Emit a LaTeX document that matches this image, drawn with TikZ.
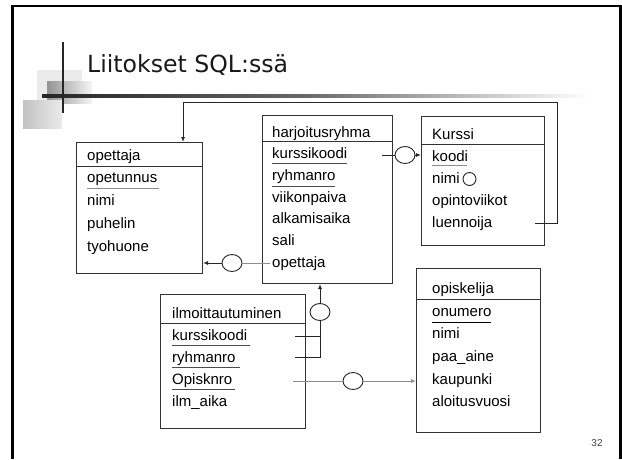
\documentclass[tikz,border=0pt]{standalone}
\usepackage{fontspec}
\setmainfont{Liberation Sans}
\newfontfamily\titlefont{DejaVu Sans}
\usetikzlibrary{arrows.meta,shapes.geometric}
\begin{document}
\begin{tikzpicture}[x=1pt,y=-1pt,
  tbl/.style={draw=black!80, line width=1pt, anchor=north west, inner sep=0pt},
  sepline/.style={draw=black!80, line width=1pt},
  txt/.style={anchor=base west, inner sep=0pt, font=\fontsize{15}{18}\selectfont},
  ul/.style={line width=0.9pt, black!70},
  ulg/.style={line width=0.9pt, black!45},
  link/.style={line width=0.9pt, black!85},
  linkg/.style={line width=0.9pt, black!45},
  tip/.style={-{Latex[length=5pt,width=4pt]}},
  ring/.style={draw=black!85, ellipse, line width=0.9pt, minimum width=20pt, minimum height=17pt, inner sep=0pt},
  smallring/.style={draw=black!85, ellipse, line width=0.9pt, minimum width=13pt, minimum height=13pt, inner sep=0pt}
]
\useasboundingbox (0,0) rectangle (622,459);
\fill[white] (0,0) rectangle (622,459);

% slide frame
\draw[line width=2.5pt, black] (12.5,459) -- (12.5,6) -- (620.5,6) -- (620.5,459);

% title decoration
\fill[black!8] (37,70) rectangle (82,100);
\shade[left color=black!42, right color=black!4] (47,81) rectangle (92,103);
\shade[left color=black!24, right color=black!8] (23,100) rectangle (62,128);
\shade[left color=black!85, right color=black!60] (42,94.5) rectangle (300,97.5);
\shade[left color=black!60, right color=white] (300,94.5) rectangle (590,97.5);
\draw[line width=2pt, black!85] (63,42) -- (63,113);

\node[anchor=base west, inner sep=0pt, font=\titlefont\fontsize{23.6}{28}\selectfont, text=black!90] (title) at (87,72) {Liitokset SQL:ssä};

% opettaja
\node[tbl, minimum width=126pt, minimum height=131pt] (opettaja) at (76,142) {};
\draw[sepline] (76,166) -- (202,166);
\node[txt] (opH) at (87,160) {opettaja};
\node[txt] (opA) at (87,182) {opetunnus};
\node[txt] (opB) at (87,205) {nimi};
\node[txt] (opC) at (87,228) {puhelin};
\node[txt] (opD) at (87,251) {tyohuone};
\draw[ulg] (87,188) -- (159,188);

% harjoitusryhma
\node[tbl, minimum width=130pt, minimum height=168pt] (harj) at (262,115) {};
\draw[sepline] (262,141) -- (392,141);
\node[txt] (hH) at (272,137) {harjoitusryhma};
\node[txt] (hA) at (272,158) {kurssikoodi};
\node[txt] (hB) at (272,180) {ryhmanro};
\node[txt] (hC) at (272,202) {viikonpaiva};
\node[txt] (hD) at (272,223) {alkamisaika};
\node[txt] (hE) at (272,245) {sali};
\node[txt] (hF) at (272,267) {opettaja};
\draw[ul] (272,163) -- (347,163);
\draw[ul] (272,186) -- (335,186);

% Kurssi
\node[tbl, minimum width=123pt, minimum height=129pt] (kurssi) at (421,116) {};
\draw[sepline] (421,144) -- (544,144);
\node[txt] (kH) at (432,139) {Kurssi};
\node[txt] (kA) at (432,161) {koodi};
\node[txt] (kB) at (432,183) {nimi};
\node[txt] (kC) at (432,205) {opintoviikot};
\node[txt] (kD) at (432,227) {luennoija};
\draw[ulg] (432,165) -- (467,165);
\node[smallring] (kring) at (469.5,179) {};

% ilmoittautuminen
\node[tbl, minimum width=145pt, minimum height=134pt] (ilmo) at (160,294) {};
\draw[sepline] (160,323) -- (305,323);
\node[txt] (iH) at (172,318) {ilmoittautuminen};
\node[txt] (iA) at (172,340) {kurssikoodi};
\node[txt] (iB) at (172,362) {ryhmanro};
\node[txt] (iC) at (172,384) {Opisknro};
\node[txt] (iD) at (172,406) {ilm\_aika};
\draw[ul] (172,345) -- (250,345);
\draw[ul] (172,367) -- (240,367);
\draw[ul] (172,389) -- (235,389);

% opiskelija
\node[tbl, minimum width=124pt, minimum height=164pt] (opisk) at (416,268) {};
\draw[sepline] (416,299) -- (540,299);
\node[txt] (oH) at (432,293) {opiskelija};
\node[txt] (oA) at (432,316) {onumero};
\node[txt] (oB) at (432,338) {nimi};
\node[txt] (oC) at (432,361) {paa\_aine};
\node[txt] (oD) at (432,384) {kaupunki};
\node[txt] (oE) at (432,406) {aloitusvuosi};
\draw[line width=0.9pt, black] (432,322) -- (491,322);

% connector: luennoija -> opettaja
\coordinate (lu0) at (535,223);
\coordinate (lu1) at (557,223);
\coordinate (lu2) at (557,102);
\coordinate (lu3) at (183,102);
\draw[link,tip] (lu0) -- (lu1) -- (lu2) -- (lu3) -- (opettaja.north -| lu3);

% connector: harjoitusryhma.kurssikoodi -> Kurssi
\coordinate (hk0) at (382,155);
\node[ring] (r1) at (405,155) {};
\draw[link] (hk0) -- (r1.west);
\draw[link,tip] (r1.east) -- (kurssi.west |- r1);

% connector: harjoitusryhma.opettaja -> opettaja
\coordinate (ho0) at (270,263);
\node[ring] (r2) at (232,263) {};
\draw[linkg] (ho0) -- (r2.east);
\draw[link,tip] (r2.west) -- (opettaja.east |- r2);

% connector: ilmoittautuminen -> harjoitusryhma
\coordinate (ik0) at (295,336);
\coordinate (ir0) at (295,357);
\coordinate (ij) at (320,357);
\node[ring] (r3) at (320,312) {};
\draw[link] (ik0) -- (ik0 -| ij);
\draw[link] (ir0) -- (ij) -- (r3.south);
\draw[link,tip] (r3.north) -- (harj.south -| r3);

% connector: ilmoittautuminen.Opisknro -> opiskelija
\coordinate (io0) at (293,381);
\node[ring] (r4) at (353,381) {};
\draw[linkg] (io0) -- (r4.west);
\draw[linkg,tip] (r4.east) -- (opisk.west |- r4);

% page number
\node[inner sep=0pt, font=\fontsize{10}{12}\selectfont, text=black!75] (pg) at (597,443) {32};
\end{tikzpicture}
\end{document}
